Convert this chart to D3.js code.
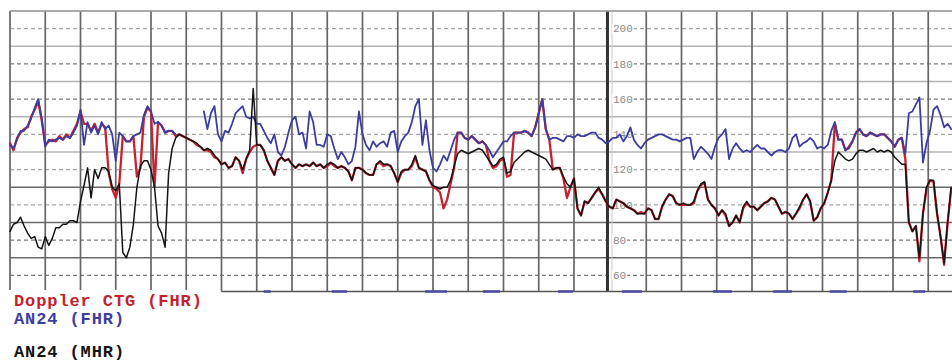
<!DOCTYPE html>
<html><head><meta charset="utf-8">
<script src="https://cdn.jsdelivr.net/npm/d3@7"></script>
<style>html,body{margin:0;padding:0;background:#fff;overflow:hidden}</style>
</head><body><svg id="c" width="952" height="364"></svg>
<script>
// ---- data (time step 0.1 min = 6 s; values in bpm; null = signal loss) ----
const sampleStepMin = 0.1;
const fhrDoppler = [
135,131,138,141,143,144,150,154,159,148,
134,136,137,136,139,137,140,138,142,146,
153,146,146,142,146,141,146,144,118,109,
104,112,139,136,136,139,116,121,150,155,
153,110,147,145,141,142,142,139,140,139,
138,137,136,134,133,131,131,130,127,126,
123,124,121,122,127,125,118,126,130,133,
134,134,131,125,121,117,125,127,125,126,
123,121,123,122,123,122,124,122,123,121,
122,124,122,121,122,121,119,114,121,121,
120,118,117,117,123,124,122,123,122,118,
113,118,120,120,122,127,121,120,119,114,
110,109,107,98,103,112,121,141,141,138,
137,139,137,135,136,134,125,121,122,125,
126,116,117,141,141,141,142,141,139,144,
152,160,143,137,120,121,121,115,104,110,
115,98,94,102,101,104,107,109,106,102,
99,98,103,102,101,99,98,97,95,96,
95,98,97,92,92,99,103,106,105,101,
100,100,100,100,101,108,111,113,103,100,
98,94,97,94,88,90,94,90,98,101,
99,99,97,99,101,102,104,103,99,95,
96,95,92,95,98,103,106,102,91,93,
98,101,107,114,146,137,137,131,133,136,
141,143,140,139,141,140,139,140,140,138,
136,133,137,138,126,90,85,88,68,95,
109,114,113,95,82,66,90,109
];
const fhrAN24 = [
134,132,137,142,142,145,149,155,160,149,
133,137,136,137,138,137,139,138,141,145,
154,134,147,141,145,140,147,143,145,140,
125,141,139,136,136,139,140,141,151,156,
153,146,147,145,141,142,142,140,null,null,
null,null,null,null,null,153,143,152,156,140,
136,142,141,146,152,154,156,150,149,150,
146,146,142,138,135,140,130,128,133,141,
148,150,140,141,132,153,147,134,134,133,
140,139,132,126,130,127,123,125,133,153,
140,134,131,136,133,135,136,133,141,142,
130,136,139,141,147,156,160,134,148,131,
121,119,123,128,125,131,137,141,141,138,
137,139,137,135,136,134,131,127,130,133,
136,136,139,141,141,141,142,141,139,144,
152,160,143,137,138,138,137,136,139,139,
138,140,139,139,140,141,141,138,137,135,
136,138,138,140,136,139,144,137,134,132,
135,137,138,139,140,140,139,138,137,137,
136,137,138,138,126,130,133,131,129,126,
133,138,140,143,126,132,135,132,130,131,
130,132,134,132,132,130,128,130,131,131,
130,132,138,140,133,135,136,138,136,132,
133,132,134,142,147,137,137,131,132,136,
141,143,140,139,141,140,139,140,140,138,
136,133,137,138,129,152,153,157,161,124,
135,142,154,156,151,144,146,143
];
const mhrAN24 = [
85,89,90,93,88,84,81,82,76,75,
82,77,81,87,87,89,89,91,91,90,
102,111,121,104,120,115,121,121,119,110,
108,112,73,70,76,89,110,122,125,125,
120,110,88,84,76,118,132,138,140,139,
138,137,136,135,133,131,132,131,128,126,
123,124,121,122,127,125,120,126,131,166,
134,134,131,125,121,117,125,127,125,126,
123,121,123,122,123,122,124,122,123,121,
123,124,123,121,122,121,119,114,121,121,
120,118,117,117,123,125,123,123,122,118,
113,119,120,120,123,128,121,120,119,114,
111,110,109,110,110,114,122,129,131,130,
129,130,131,132,131,128,125,122,123,126,
127,118,119,124,126,128,130,131,130,129,
128,127,126,123,120,121,121,116,112,110,
115,98,94,102,101,104,107,110,106,102,
99,98,103,102,101,99,98,97,95,95,
95,98,97,92,92,99,103,106,105,101,
100,101,100,100,102,108,112,113,103,100,
98,94,97,95,88,90,94,90,99,102,
99,99,97,99,101,102,104,103,99,95,
96,95,92,95,99,103,106,102,91,93,
98,101,107,114,125,130,128,126,125,126,
129,131,131,130,131,132,130,131,130,131,
130,127,125,123,123,90,85,88,70,95,
110,114,114,95,82,67,90,110
];
const bpmLabels = [200, 180, 160, 140, 120, 100, 80, 60];
const bpmHalfLines = [210, 190, 170, 150, 130, 110, 90, 70, 50];
const minuteLines = [0,1,2,3,4,5,6,7,8,9,10,11,12,13,14,15,16,18.05,19.05,20.05,21.05,22.05,23.05,24.05,25.05,26.05];
const pageBreakMin = 16.95;
const movementMarks = [[7.2,7.4],[9.13,9.56],[11.77,12.4],[13.42,13.9],[15.55,15.97],[17.36,17.93],[19.94,20.48],[21.65,22.18],[23.26,23.74],[25.62,25.96]];
const legendItems = [
  {label: "Doppler CTG (FHR)", key: "doppler"},
  {label: "AN24 (FHR)", key: "fhr"},
  {label: "AN24 (MHR)", key: "mhr"}
];

// ---- drawing ----
const W = 952, H = 364;
const svg = d3.select("#c");
const x = d3.scaleLinear().domain([0, 26.724]).range([10, 952]);
const y = d3.scaleLinear().domain([50, 210]).range([293, 11]);
const colors = {doppler: "#c4222f", fhr: "#3d3d9f", mhr: "#141414"};
const yBottom = 291.5;

const g = svg.append("g");
g.selectAll("line.h").data(bpmHalfLines.filter(v => v > 50)).join("line")
  .attr("x1", x(0)).attr("x2", W).attr("y1", d => y(d)).attr("y2", d => y(d))
  .attr("stroke", d => d <= 110 ? "#6a6a6a" : "#b4b4b4")
  .attr("stroke-width", d => d <= 110 ? 1.6 : 1.3);
g.selectAll("line.d").data(bpmLabels).join("line")
  .attr("x1", x(0)).attr("x2", W).attr("y1", d => y(d)).attr("y2", d => y(d))
  .attr("stroke", d => [180,160,80,60].includes(d) ? "#7a7a7a" : "#a8a8a8")
  .attr("stroke-width", 1.4).attr("stroke-dasharray", "4,3");
g.selectAll("line.v").data(minuteLines).join("line")
  .attr("x1", d => x(d)).attr("x2", d => x(d)).attr("y1", y(210)).attr("y2", yBottom)
  .attr("stroke", "#666").attr("stroke-width", 1.7);
g.append("line").attr("x1", x(pageBreakMin)).attr("x2", x(pageBreakMin))
  .attr("y1", y(210)).attr("y2", yBottom).attr("stroke", "#333").attr("stroke-width", 3);
g.append("line").attr("x1", x(pageBreakMin) + 4.5).attr("x2", x(pageBreakMin) + 4.5)
  .attr("y1", y(210)).attr("y2", yBottom).attr("stroke", "#c8c8c8").attr("stroke-width", 1);
g.append("line").attr("x1", x(0)).attr("x2", W).attr("y1", y(210)).attr("y2", y(210))
  .attr("stroke", "#a0a0a0").attr("stroke-width", 1.4);
g.append("line").attr("x1", x(6)).attr("x2", W).attr("y1", yBottom).attr("y2", yBottom)
  .attr("stroke", "#555").attr("stroke-width", 1.6);

const lab = g.selectAll("g.lab").data(bpmLabels).join("g")
  .attr("transform", d => `translate(${x(pageBreakMin) + 4.5},${y(d)})`);
lab.append("rect").attr("x", 0).attr("y", -5).attr("width", d => String(d).length * 6.6 + 2).attr("height", 10).attr("fill", "#fff");
lab.append("text").text(d => d).attr("x", 1).attr("y", 3.8)
  .attr("font-family", "Liberation Mono, monospace").attr("font-size", 11).attr("fill", "#8a8a8a");

const line = d3.line().defined(d => d != null).x((d, i) => x(i * sampleStepMin)).y(d => y(d));
function trace(data, color, w) {
  svg.append("path").datum(data).attr("d", line).attr("fill", "none")
    .attr("stroke", color).attr("stroke-width", w).attr("stroke-linejoin", "round").attr("stroke-linecap", "round");
}
trace(fhrDoppler, colors.doppler, 2.3);
trace(fhrAN24, colors.fhr, 1.8);
trace(mhrAN24, colors.mhr, 1.5);

svg.selectAll("line.m").data(movementMarks).join("line")
  .attr("x1", d => x(d[0])).attr("x2", d => x(d[1])).attr("y1", yBottom).attr("y2", yBottom)
  .attr("stroke", "#4a4aa0").attr("stroke-width", 2.5);

svg.append("rect").attr("x", 0).attr("y", 290).attr("width", x(6) - 1).attr("height", H - 290).attr("fill", "#fff");
const legY = [306, 324, 357];
svg.selectAll("text.leg").data(legendItems).join("text")
  .attr("x", 14).attr("y", (d, i) => legY[i]).text(d => d.label)
  .attr("font-family", "Liberation Mono, monospace").attr("font-size", 17).attr("font-weight", "bold")
  .attr("letter-spacing", 0.9)
  .attr("fill", d => colors[d.key]).style("white-space", "pre");
</script></body></html>
